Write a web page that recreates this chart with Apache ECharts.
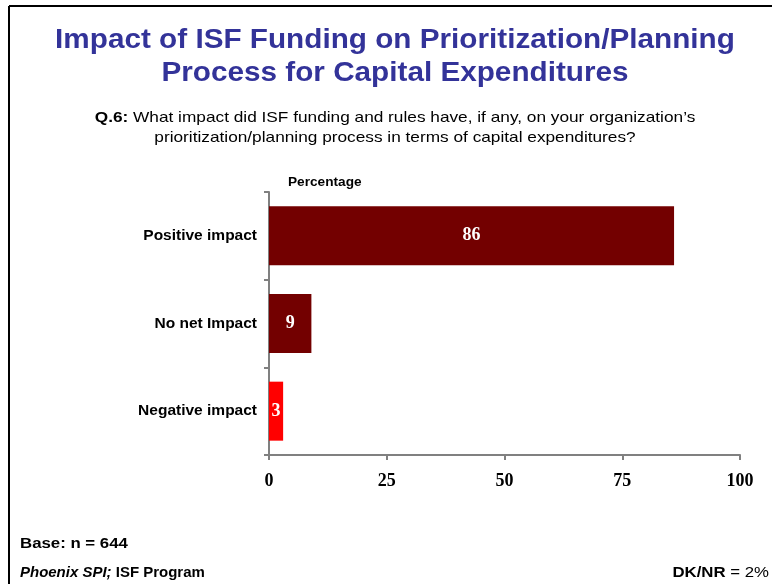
<!DOCTYPE html>
<html>
<head>
<meta charset="utf-8">
<script src="https://cdn.jsdelivr.net/npm/echarts@6/dist/echarts.min.js"></script>
<style>
    html, body { margin: 0; padding: 0; background: #fff; }
    #chart { width: 772px; height: 584px; }
</style>
</head>
<body>
<div id="chart"></div>
<script>
    const categories = ['Positive impact', 'No net Impact', 'Negative impact'];
    const values = [86, 9, 3];
    const barColors = ['#730000', '#730000', '#ff0000'];
    const xTicks = [0, 25, 50, 75, 100];

    const SANS = 'Arial, "Liberation Sans", sans-serif';
    const SERIF = '"Times New Roman", "Liberation Serif", serif';

    let chart = echarts.init(document.getElementById('chart'));
    let option = {
        animation: false,
        backgroundColor: '#fff',
        grid: {
            left: 269,
            right: 32,
            top: 192,
            bottom: 129
        },
        xAxis: {
            type: 'value',
            min: xTicks[0],
            max: xTicks[xTicks.length - 1],
            interval: 25,
            splitLine: {show: false},
            axisLine: {show: true, lineStyle: {color: '#808080', width: 2}},
            axisTick: {show: true, length: 5, lineStyle: {color: '#808080', width: 2}},
            axisLabel: {
                margin: 17,
                fontFamily: SERIF,
                fontWeight: 'bold',
                fontSize: 18,
                color: '#000'
            }
        },
        yAxis: {
            type: 'category',
            inverse: true,
            data: categories,
            axisLine: {show: true, lineStyle: {color: '#808080', width: 2}},
            axisTick: {show: true, length: 5, lineStyle: {color: '#808080', width: 2}},
            axisLabel: {
                margin: 12,
                fontFamily: SANS,
                fontWeight: 'bold',
                fontSize: 15.5,
                color: '#000'
            }
        },
        series: [{
            type: 'bar',
            barWidth: 59,
            data: values.map((v, i) => ({value: v, itemStyle: {color: barColors[i]}})),
            label: {
                show: true,
                position: 'inside',
                fontFamily: SERIF,
                fontWeight: 'bold',
                fontSize: 18,
                color: '#fff'
            }
        }],
        graphic: [
            // 外框
            {type: 'line', shape: {x1: 9, y1: 6, x2: 772, y2: 6}, style: {stroke: '#000', lineWidth: 2}},
            {type: 'line', shape: {x1: 9, y1: 6, x2: 9, y2: 584}, style: {stroke: '#000', lineWidth: 2}},
            // 标题
            {
                type: 'text', x: 395, y: 41, scaleX: 1.1,
                style: {
                    text: 'Impact of ISF Funding on Prioritization/Planning',
                    fill: '#333399', font: 'bold 27px ' + SANS,
                    align: 'center', verticalAlign: 'middle',
                    shadowColor: 'rgba(0,0,0,0.4)', shadowOffsetX: 2, shadowOffsetY: 2, shadowBlur: 2
                }
            },
            {
                type: 'text', x: 395, y: 74, scaleX: 1.1,
                style: {
                    text: 'Process for Capital Expenditures',
                    fill: '#333399', font: 'bold 27px ' + SANS,
                    align: 'center', verticalAlign: 'middle',
                    shadowColor: 'rgba(0,0,0,0.4)', shadowOffsetX: 2, shadowOffsetY: 2, shadowBlur: 2
                }
            },
            // 问题
            {
                type: 'text', x: 395, y: 118, scaleX: 1.15,
                style: {
                    text: '{b|Q.6:} What impact did ISF funding and rules have, if any, on your organization\u2019s',
                    rich: {b: {fontWeight: 'bold', fontSize: 15, fontFamily: SANS, fill: '#000'}},
                    fill: '#000', font: '15px ' + SANS,
                    align: 'center', verticalAlign: 'middle'
                }
            },
            {
                type: 'text', x: 395, y: 138, scaleX: 1.15,
                style: {
                    text: 'prioritization/planning process in terms of capital expenditures?',
                    fill: '#000', font: '15px ' + SANS,
                    align: 'center', verticalAlign: 'middle'
                }
            },
            {
                type: 'text', x: 288, y: 182, scaleX: 1.05,
                style: {
                    text: 'Percentage', fill: '#000', font: 'bold 13px ' + SANS,
                    align: 'left', verticalAlign: 'middle'
                }
            },
            // 底部说明
            {
                type: 'text', x: 20, y: 544, scaleX: 1.2,
                style: {
                    text: 'Base: n = 644', fill: '#000', font: 'bold 14px ' + SANS,
                    align: 'left', verticalAlign: 'middle'
                }
            },
            {
                type: 'text', x: 20, y: 573, scaleX: 1.07,
                style: {
                    text: '{i|Phoenix SPI;} ISF Program',
                    rich: {i: {fontStyle: 'italic', fontWeight: 'bold', fontSize: 14, fontFamily: SANS, fill: '#000'}},
                    fill: '#000', font: 'bold 14px ' + SANS,
                    align: 'left', verticalAlign: 'middle'
                }
            },
            {
                type: 'text', x: 769, y: 573, scaleX: 1.2,
                style: {
                    text: '{b|DK/NR} = 2%',
                    rich: {b: {fontWeight: 'bold', fontSize: 14, fontFamily: SANS, fill: '#000'}},
                    fill: '#000', font: '14px ' + SANS,
                    align: 'right', verticalAlign: 'middle'
                }
            }
        ]
    };
    chart.setOption(option);
</script>
</body>
</html>
